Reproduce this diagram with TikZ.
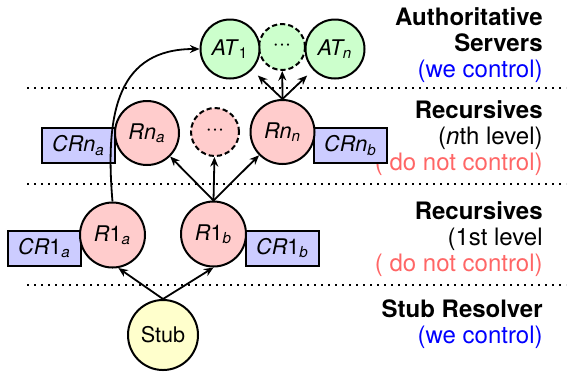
\documentclass[tikz,border=0pt]{standalone}
\usepackage{fontspec}
\setmainfont{TeX Gyre Heros}
\usetikzlibrary{arrows.meta}
\definecolor{atgreen}{RGB}{204,255,204}
\definecolor{recpink}{RGB}{255,204,204}
\definecolor{crblue}{RGB}{204,204,255}
\definecolor{stubyellow}{RGB}{255,255,204}
\definecolor{nocontrol}{RGB}{255,102,102}
\tikzset{srv/.style={circle, draw, line width=1pt, inner sep=0pt, font=\fontsize{10.8}{13}\selectfont}}
\tikzset{dotsrv/.style={srv, dash pattern=on 2.6pt off 1.5pt}}
\tikzset{crbox/.style={rectangle, draw, line width=1pt, fill=crblue, inner sep=0pt, minimum width=36.5pt, minimum height=17.5pt, font=\fontsize{10.8}{13}\selectfont}}
\tikzset{arr/.style={draw, -{Stealth[length=4.8pt,width=4pt]}, line width=0.9pt}}
\tikzset{lvl/.style={draw, line width=0.9pt, dash pattern=on 0.8pt off 2.7pt}}
\tikzset{lbl/.style={align=right, inner sep=0pt, anchor=base east, font=\fontsize{12}{12.8}\selectfont}}
\newcommand{\dotsym}{\textperiodcentered\textperiodcentered\textperiodcentered}

\begin{document}
\begin{tikzpicture}[x=0.5pt, y=-0.5pt]
		\useasboundingbox (0,0) rectangle (571,371);
		
		\draw[lvl] (27,88) -- (566,88);
		\draw[lvl] (27,184) -- (566,184);
		\draw[lvl] (27,285) -- (566,285);
		
		% base anchor sits on the last line
		\node[lbl] (lblAuth) at (543,77) {\textbf{Authoritative}\\\textbf{Servers}\\\textcolor{blue}{(we control)}};
		\node[lbl] (lblRecn) at (543,170) {\textbf{Recursives}\\(\textit{n}th level)\\\textcolor{nocontrol}{( do not control)}};
		\node[lbl] (lblRec1) at (543,271) {\textbf{Recursives}\\(1st level\\\textcolor{nocontrol}{( do not control)}};
		\node[lbl] (lblStub) at (543,343) {\textbf{Stub Resolver}\\\textcolor{blue}{(we control)}};
		
		\node[dotsrv, fill=atgreen, minimum size=23pt] (ATdots) at (282,47) {\dotsym};
		\node[srv, fill=atgreen, minimum size=29.5pt] (AT1) at (230,49) {\textit{AT}\textsubscript{1}};
		\node[srv, fill=atgreen, minimum size=29.5pt] (ATn) at (335,49) {\textit{AT\textsubscript{n}}};
		
		\node[crbox] (CRna) at (78.5,145.5) {\textit{CRn\textsubscript{a}}};
		\node[crbox] (CRnb) at (350.5,145.5) {\textit{CRn\textsubscript{b}}};
		\node[srv, fill=recpink, minimum size=32pt] (Rna) at (147,133) {\textit{Rn\textsubscript{a}}};
		\node[dotsrv, fill=recpink, minimum size=24pt] (Rndots) at (215,132) {\dotsym};
		\node[srv, fill=recpink, minimum size=32pt] (Rnn) at (282.5,132) {\textit{Rn\textsubscript{n}}};
		
		\node[crbox] (CR1a) at (44.5,248) {\textit{CR}1\textsubscript{\textit{a}}};
		\node[crbox] (CR1b) at (282.5,248) {\textit{CR}1\textsubscript{\textit{b}}};
		\node[srv, fill=recpink, minimum size=32.5pt] (R1a) at (112.5,235) {\textit{R}1\textsubscript{\textit{a}}};
		\node[srv, fill=recpink, minimum size=32.5pt] (R1b) at (213.5,234) {\textit{R}1\textsubscript{\textit{b}}};
		
		\node[srv, fill=stubyellow, minimum size=35pt] (Stub) at (163,335) {Stub};
		
		\draw[arr] (Stub.north) -- (R1a.-80);
		\draw[arr] (Stub.north) -- (R1b.south);
		
		\draw[arr] (R1b.north) -- (Rna);
		\draw[arr] (R1b.north) -- (Rndots);
		\draw[arr] (R1b.north) -- (Rnn);
		
		\draw[arr, shorten >=4pt] (Rnn.north) -- (AT1);
		\draw[arr] (Rnn.north) -- (ATdots);
		\draw[arr, shorten >=4pt] (Rnn.north) -- (ATn);
		
		\draw[arr] (R1a.north) .. controls +(-8,-92) and +(-80,0) .. (AT1.west);
	\end{tikzpicture}
\end{document}
